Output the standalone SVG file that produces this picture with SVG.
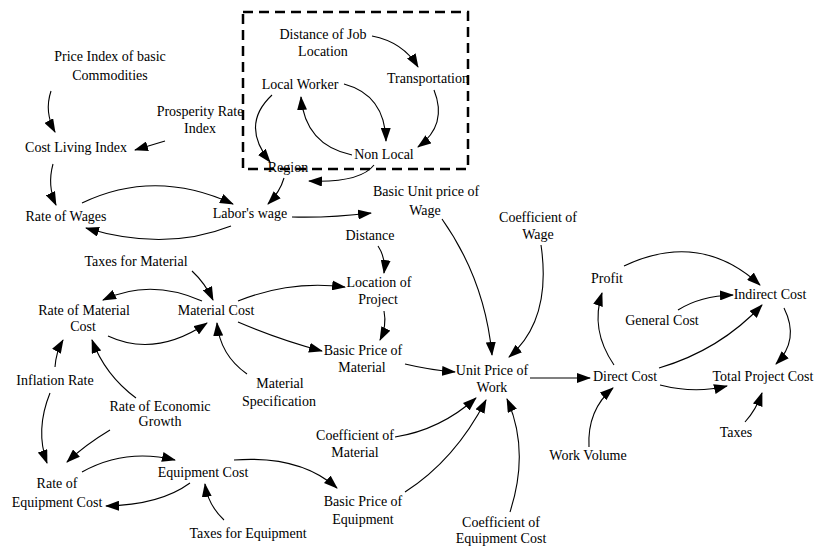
<svg xmlns="http://www.w3.org/2000/svg" width="816" height="548" viewBox="0 0 816 548">
<style>
text{font-family:"Liberation Serif","Times New Roman",serif;font-size:14px;fill:#000;text-anchor:middle}
.c{fill:none;stroke:#000;stroke-width:1.1;marker-end:url(#ah)}
.box{fill:none;stroke:#000;stroke-width:2.5;stroke-dasharray:10 6}
</style>
<defs>
<marker id="ah" markerUnits="userSpaceOnUse" markerWidth="14" markerHeight="10" viewBox="0 0 14 10" refX="13" refY="5" orient="auto">
<path d="M0,0 L14,5 L0,10 z" fill="#000"/>
</marker>
</defs>
<rect class="box" x="243" y="12" width="225" height="157"/>
<g id="connectors">
<path class="c" d="M51,91 Q44,112 55,132"/>
<path class="c" d="M165,141 L135,150"/>
<path class="c" d="M53,164 Q47,186 56,205"/>
<path class="c" d="M82,203 Q155,168 233,204"/>
<path class="c" d="M231,226 Q165,252 86,228"/>
<path class="c" d="M284,178 Q280,192 268,204"/>
<path class="c" d="M374,165 Q360,183 309,181"/>
<path class="c" d="M272,95 Q240,125 270,162"/>
<path class="c" d="M344,84 Q385,95 386,141"/>
<path class="c" d="M352,155 Q305,145 301,97"/>
<path class="c" d="M372,36 Q403,42 418,67"/>
<path class="c" d="M434,90 Q448,125 418,147"/>
<path class="c" d="M292,217 Q330,218 371,213"/>
<path class="c" d="M378,246 Q386,258 384,273"/>
<path class="c" d="M384,311 Q387,326 380,340"/>
<path class="c" d="M238,301 Q290,280 345,287"/>
<path class="c" d="M238,322 Q280,340 322,351"/>
<path class="c" d="M192,271 Q205,283 213,300"/>
<path class="c" d="M202,301 Q150,278 103,300"/>
<path class="c" d="M108,336 Q155,358 207,323"/>
<path class="c" d="M247,374 Q220,355 217,323"/>
<path class="c" d="M136,398 Q105,375 92,340"/>
<path class="c" d="M55,367 Q56,352 63,340"/>
<path class="c" d="M50,393 Q35,430 47,463"/>
<path class="c" d="M110,430 Q85,445 67,462"/>
<path class="c" d="M82,472 Q125,448 175,460"/>
<path class="c" d="M190,483 Q160,505 106,506"/>
<path class="c" d="M224,520 Q208,505 205,484"/>
<path class="c" d="M234,460 Q300,455 337,488"/>
<path class="c" d="M405,364 Q430,370 455,372"/>
<path class="c" d="M442,219 Q485,280 492,355"/>
<path class="c" d="M541,245 Q552,320 509,357"/>
<path class="c" d="M530,378 L590,378"/>
<path class="c" d="M395,437 Q440,430 476,398"/>
<path class="c" d="M405,492 Q455,460 486,400"/>
<path class="c" d="M510,512 Q530,450 507,399"/>
<path class="c" d="M614,365 Q590,330 602,293"/>
<path class="c" d="M624,266 Q700,230 760,285"/>
<path class="c" d="M678,310 Q700,296 733,295"/>
<path class="c" d="M659,368 Q720,350 762,305"/>
<path class="c" d="M784,308 Q800,340 776,364"/>
<path class="c" d="M660,385 Q695,394 727,386"/>
<path class="c" d="M745,422 Q756,410 762,393"/>
<path class="c" d="M589,447 Q587,410 613,388"/>
</g>
<g id="price-index"><text x="110" y="61">Price Index of basic</text><text x="110" y="80">Commodities</text></g>
<g id="prosperity"><text x="200" y="116">Prosperity Rate</text><text x="200" y="133">Index</text></g>
<g id="cost-living"><text x="76" y="152">Cost Living Index</text></g>
<g id="rate-wages"><text x="66" y="221">Rate of Wages</text></g>
<g id="labors-wage"><text x="250" y="218">Labor's wage</text></g>
<g id="distance-job"><text x="323" y="39">Distance of Job</text><text x="323" y="56">Location</text></g>
<g id="transportation"><text x="428" y="83">Transportation</text></g>
<g id="local-worker"><text x="300" y="89">Local Worker</text></g>
<g id="non-local"><text x="384" y="159">Non Local</text></g>
<g id="region"><text x="288" y="172">Region</text></g>
<g id="basic-unit-wage"><text x="426" y="196">Basic Unit price of</text><text x="425" y="215">Wage</text></g>
<g id="coef-wage"><text x="538" y="222">Coefficient of</text><text x="538" y="239">Wage</text></g>
<g id="distance"><text x="370" y="240">Distance</text></g>
<g id="location-project"><text x="379" y="287">Location of</text><text x="378" y="304">Project</text></g>
<g id="taxes-material"><text x="136" y="266">Taxes for Material</text></g>
<g id="rate-material"><text x="84" y="315">Rate of Material</text><text x="83" y="331">Cost</text></g>
<g id="material-cost"><text x="216" y="315">Material Cost</text></g>
<g id="basic-price-material"><text x="363" y="355">Basic Price of</text><text x="362" y="372">Material</text></g>
<g id="unit-price-work"><text x="492" y="375">Unit Price of</text><text x="492" y="392">Work</text></g>
<g id="inflation"><text x="55" y="385">Inflation Rate</text></g>
<g id="material-spec"><text x="280" y="388">Material</text><text x="279" y="406">Specification</text></g>
<g id="economic-growth"><text x="160" y="411">Rate of Economic</text><text x="160" y="426">Growth</text></g>
<g id="rate-equipment"><text x="57" y="488">Rate of</text><text x="57" y="507">Equipment Cost</text></g>
<g id="equipment-cost"><text x="203" y="477">Equipment Cost</text></g>
<g id="taxes-equipment"><text x="248" y="538">Taxes for Equipment</text></g>
<g id="coef-material"><text x="355" y="440">Coefficient of</text><text x="355" y="457">Material</text></g>
<g id="basic-price-equipment"><text x="363" y="506">Basic Price of</text><text x="363" y="524">Equipment</text></g>
<g id="coef-equipment"><text x="501" y="527">Coefficient of</text><text x="501" y="543">Equipment Cost</text></g>
<g id="direct-cost"><text x="625" y="381">Direct Cost</text></g>
<g id="profit"><text x="607" y="283">Profit</text></g>
<g id="indirect-cost"><text x="770" y="299">Indirect Cost</text></g>
<g id="general-cost"><text x="662" y="325">General Cost</text></g>
<g id="total-cost"><text x="763" y="381">Total Project Cost</text></g>
<g id="taxes"><text x="736" y="437">Taxes</text></g>
<g id="work-volume"><text x="588" y="460">Work Volume</text></g>
</svg>
